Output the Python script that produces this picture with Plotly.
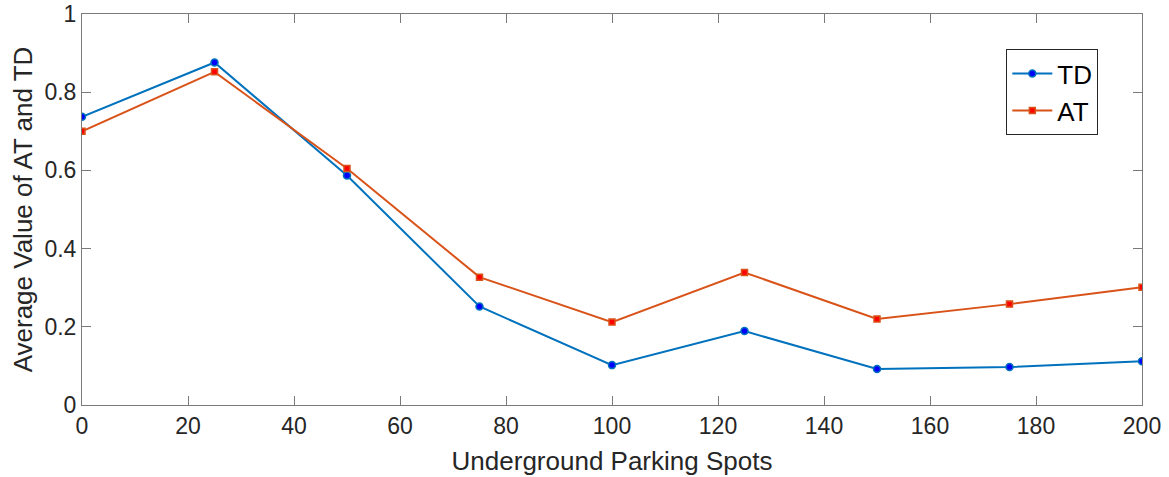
import plotly.graph_objects as go

x_vals = [0, 25, 50, 75, 100, 125, 150, 175, 200]
td_vals = [0.737, 0.876, 0.587, 0.252, 0.102, 0.189, 0.092, 0.097, 0.112]
at_vals = [0.700, 0.852, 0.605, 0.327, 0.212, 0.339, 0.220, 0.258, 0.301]
x_ticks = [0, 20, 40, 60, 80, 100, 120, 140, 160, 180, 200]
y_ticks = [0, 0.2, 0.4, 0.6, 0.8, 1]
y_tick_text = ["0", "0.2", "0.4", "0.6", "0.8", "1"]

fig = go.Figure()
fig.add_trace(go.Scatter(
    x=x_vals, y=td_vals, name="TD", mode="lines+markers",
    line=dict(color="#0072BD", width=2),
    marker=dict(symbol="circle", size=7, color="#0000FF", line=dict(color="#0072BD", width=1.5)),
))
fig.add_trace(go.Scatter(
    x=x_vals, y=at_vals, name="AT", mode="lines+markers",
    line=dict(color="#D95319", width=2),
    marker=dict(symbol="square", size=6, color="#FF0000", line=dict(color="#D95319", width=1.5)),
))

axis_common = dict(
    showgrid=False, zeroline=False, showline=True, linecolor="#7a7a7a", linewidth=1,
    mirror="allticks", ticks="inside", ticklen=9, tickcolor="#7a7a7a",
    tickfont=dict(family="Liberation Sans, Arial", size=23, color="#262626"),
    automargin=False,
)

fig.update_layout(
    width=1169, height=477,
    margin=dict(l=82, r=27, t=14, b=72),
    paper_bgcolor="white", plot_bgcolor="white",
    font=dict(family="Liberation Sans, Arial", size=23, color="#262626"),
    xaxis=dict(range=[0, 200], tickvals=x_ticks,
               title=dict(text="Underground Parking Spots", font=dict(size=26), standoff=14),
               **axis_common),
    yaxis=dict(range=[0, 1], tickvals=y_ticks, ticktext=y_tick_text,
               title=dict(text="Average Value of AT and TD", font=dict(size=26), standoff=4),
               **axis_common),
    legend=dict(x=0.872, y=0.91, xanchor="left", yanchor="top",
                bordercolor="#262626", borderwidth=1, bgcolor="white",
                font=dict(size=26, color="black"), itemwidth=40,
                tracegroupgap=8),
    showlegend=True,
)

fig.write_html("out.html")
